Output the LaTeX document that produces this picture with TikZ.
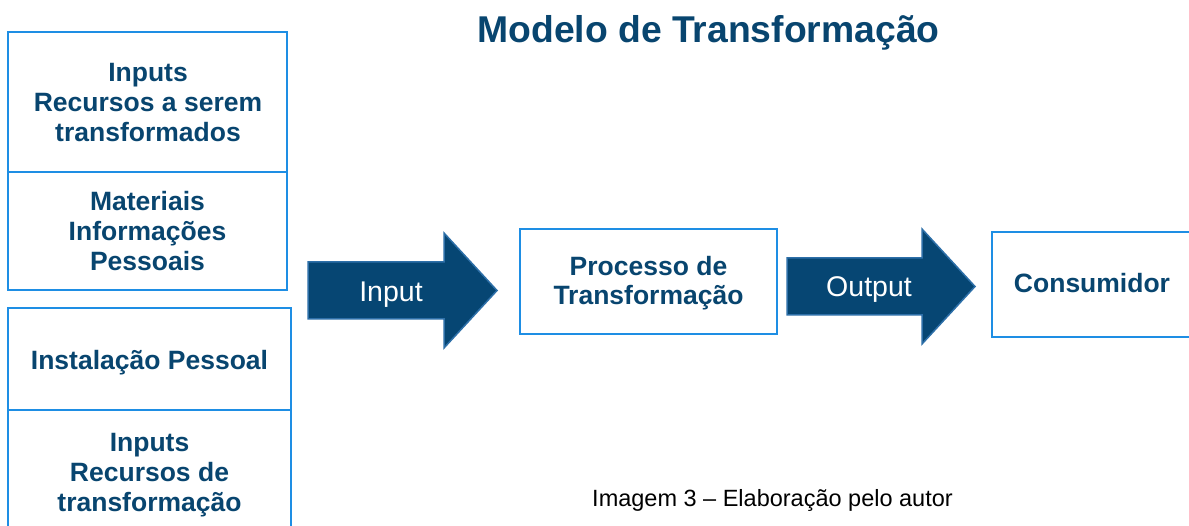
\documentclass[tikz,border=0pt]{standalone}
\usepackage{fontspec}
\setmainfont{Liberation Sans}
\definecolor{txtblue}{HTML}{08456F}
\definecolor{boxblue}{HTML}{1E8EE4}
\definecolor{arrfill}{HTML}{064673}
\definecolor{arredge}{HTML}{2D6FA8}
\begin{document}
\begin{tikzpicture}[x=1pt,y=-1pt,
  boxstyle/.style={draw=boxblue, line width=2.2pt, fill=white},
  boxtext/.style={text=txtblue, align=center, inner sep=0pt, font=\fontsize{26.5}{30}\selectfont\bfseries},
  arrowshape/.style={fill=arrfill, draw=arredge, line width=1.5pt, line join=miter},
  arrowtext/.style={text=white, inner sep=0pt, anchor=base, font=\fontsize{28.5}{34}\selectfont}]
\clip (0,0) rectangle (1189,526);
\fill[white] (0,0) rectangle (1189,526);
% left boxes
\draw[boxstyle] (8,32) rectangle (287,172);
\draw[boxstyle] (8,172) rectangle (287,290);
\draw[boxstyle] (8,308) rectangle (291,410);
\draw[boxstyle] (8,410) rectangle (291,545);
\node[boxtext] (t1) at (148,102.5) {Inputs\\Recursos a serem\\transformados};
\node[boxtext] (t2) at (147.5,231.5) {Materiais\\Informações\\Pessoais};
\node[boxtext] (t3) at (149.5,363) {Instalação Pessoal};
\node[boxtext] (t4) at (149.5,475) {Inputs\\Recursos de\\transformação};
% title
\node[text=txtblue, anchor=base, inner sep=0pt, font=\fontsize{37.3}{44}\selectfont\bfseries] (title) at (708.5,43) {Modelo de Transformação};
% input arrow
\draw[arrowshape] (308,262) -- (444,262) -- (444,233) -- (497,290.5) -- (444,348) -- (444,319) -- (308,319) -- cycle;
\node[arrowtext] (inlab) at (391,302) {Input};
% process box
\draw[boxstyle] (520,229) rectangle (777,334);
\node[boxtext, font=\fontsize{26.5}{29}\selectfont\bfseries] (proc) at (648.5,283) {Processo de\\Transformação};
% output arrow
\draw[arrowshape] (787,258) -- (922,258) -- (922,229) -- (975,286.5) -- (922,344) -- (922,315) -- (787,315) -- cycle;
\node[arrowtext] (outlab) at (869,297) {Output};
% consumer box
\draw[boxstyle] (992,232) rectangle (1200,337);
\node[boxtext, anchor=base] (cons) at (1092,293) {Consumidor};
% caption
\node[anchor=base, inner sep=0pt, font=\fontsize{23.5}{28}\selectfont] (cap) at (772.5,506) {Imagem 3 – Elaboração pelo autor};
\end{tikzpicture}
\end{document}
